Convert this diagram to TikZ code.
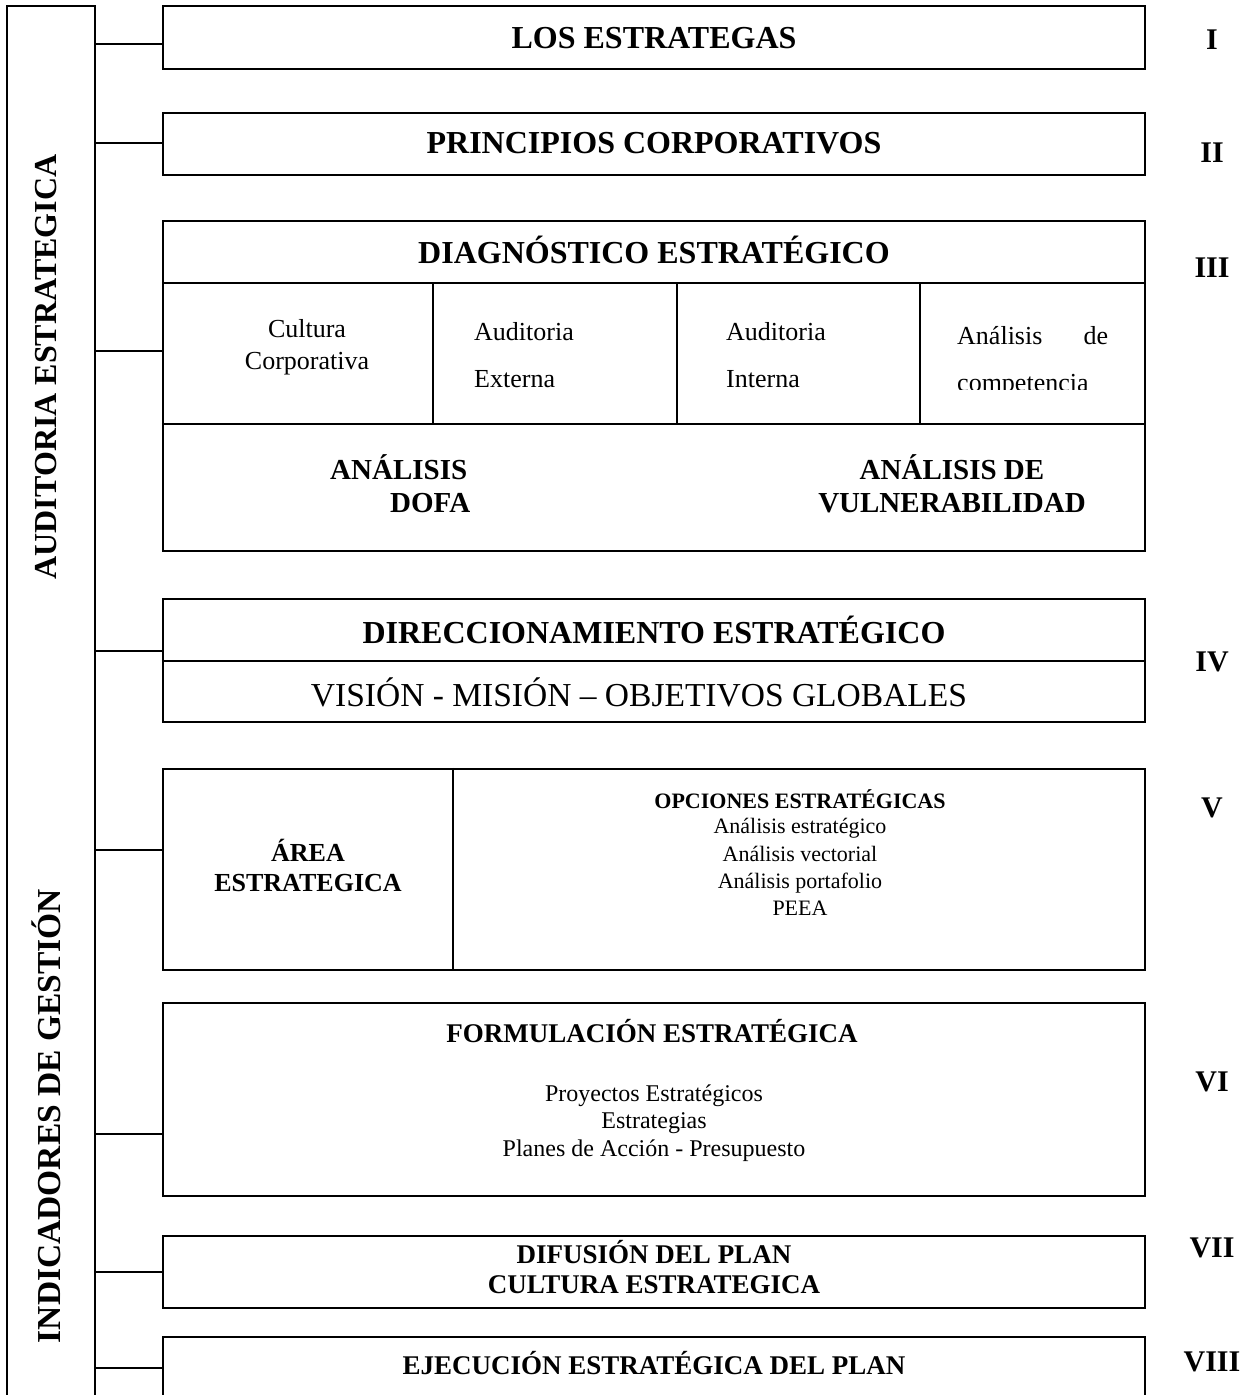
\documentclass[tikz,border=0pt]{standalone}
\usepackage{fontspec}
\setmainfont{Liberation Serif}
\begin{document}
\begin{tikzpicture}[x=1pt,y=-1pt,
  box/.style={draw, line width=2.4pt, inner sep=0pt},
  divline/.style={line width=2.4pt},
  conn/.style={line width=2pt},
  txt/.style={inner sep=0pt, align=center},
  bigb/.style={txt, font=\fontsize{32}{38}\selectfont\bfseries},
  midb/.style={txt, font=\fontsize{29}{33}\selectfont\bfseries},
  medb/.style={txt, font=\fontsize{27}{30}\selectfont\bfseries},
  smb/.style={txt, font=\fontsize{22}{27.3}\selectfont\bfseries},
  smr/.style={txt, font=\fontsize{22}{27.3}\selectfont},
  lstr/.style={txt, font=\fontsize{24}{27.5}\selectfont},
  cellr/.style={txt, font=\fontsize{26}{32}\selectfont},
  roman/.style={txt, font=\fontsize{30}{36}\selectfont\bfseries}]
\useasboundingbox (0,0) rectangle (1254,1395);
\clip (0,0) rectangle (1254,1395);
% left bar
\node[box, minimum width=88pt, minimum height=1414pt] (bar) at (51,713) {};
\node[bigb, rotate=90] (aud) at (46,367) {AUDITORIA ESTRATEGICA};
\node[bigb, font=\fontsize{33.5}{38}\selectfont\bfseries, rotate=90] (ind) at (46,1116) {INDICADORES DE GESTIÓN};
% boxes
\node[box, minimum width=982pt, minimum height=63pt] (b1) at (654,37.5) {};
\node[box, minimum width=982pt, minimum height=62pt] (b2) at (654,144) {};
\node[box, minimum width=982pt, minimum height=330pt] (b3) at (654,386) {};
\node[box, minimum width=982pt, minimum height=123pt] (b4) at (654,660.5) {};
\node[box, minimum width=982pt, minimum height=201pt] (b5) at (654,869.5) {};
\node[box, minimum width=982pt, minimum height=193pt] (b6) at (654,1099.5) {};
\node[box, minimum width=982pt, minimum height=72pt] (b7) at (654,1272) {};
\node[box, minimum width=982pt, minimum height=83pt] (b8) at (654,1378.5) {};
% connectors
\draw[conn] (bar.east |- 0,44) -- (b1.west |- 0,44);
\draw[conn] (bar.east |- 0,143) -- (b2.west |- 0,143);
\draw[conn] (bar.east |- 0,351) -- (b3.west |- 0,351);
\draw[conn] (bar.east |- 0,651) -- (b4.west |- 0,651);
\draw[conn] (bar.east |- 0,850) -- (b5.west |- 0,850);
\draw[conn] (bar.east |- 0,1134) -- (b6.west |- 0,1134);
\draw[conn] (bar.east |- 0,1272) -- (b7.west |- 0,1272);
\draw[conn] (bar.east |- 0,1368) -- (b8.west |- 0,1368);
% internal lines
\draw[divline] (b3.west |- 0,283) -- (b3.east |- 0,283);
\draw[divline] (b3.west |- 0,424) -- (b3.east |- 0,424);
\draw[divline] (433,283) -- (433,424);
\draw[divline] (677,283) -- (677,424);
\draw[divline] (920,283) -- (920,424);
\draw[divline] (b4.west |- 0,661) -- (b4.east |- 0,661);
\draw[divline] (453,0 |- b5.north) -- (453,0 |- b5.south);
% texts
\node[bigb] (t1) at (654,38) {LOS ESTRATEGAS};
\node[bigb] (t2) at (654,143) {PRINCIPIOS CORPORATIVOS};
\node[bigb] (t3) at (654,250) {DIAGNÓSTICO ESTRATÉGICO};
\node[cellr] (c1) at (307,347) {Cultura\\Corporativa};
\node[cellr, font=\fontsize{26}{47}\selectfont, align=left, anchor=west] (c2) at (474,355.5) {Auditoria\\Externa};
\node[cellr, font=\fontsize{26}{47}\selectfont, align=left, anchor=west] (c3) at (726,355.5) {Auditoria\\Interna};
\begin{scope}
\clip (920,283) rectangle (1145,389);
\node[cellr, font=\fontsize{26}{47}\selectfont, align=left, anchor=west] (c4) at (957,361.5) {\hbox to 151pt{Análisis\hfill de}\\competencia};
\end{scope}
\node[midb, align=left, anchor=west] (dofa) at (330,483.5) {ANÁLISIS\\\hspace*{60pt}DOFA};
\node[midb] (vul) at (952,483.5) {ANÁLISIS DE\\VULNERABILIDAD};
\node[bigb] (t4) at (654,630) {DIRECCIONAMIENTO ESTRATÉGICO};
\node[txt, font=\fontsize{33.5}{38}\selectfont] (t4b) at (639,692) {VISIÓN - MISIÓN – OBJETIVOS GLOBALES};
\node[txt, font=\fontsize{26}{30}\selectfont\bfseries] (area) at (308,865) {ÁREA\\ESTRATEGICA};
\node[smb] (opc) at (800,799) {OPCIONES ESTRATÉGICAS};
\node[smr] (opcl) at (800,867) {Análisis estratégico\\Análisis vectorial\\Análisis portafolio\\PEEA};
\node[medb] (t6) at (652,1031) {FORMULACIÓN ESTRATÉGICA};
\node[lstr] (t6l) at (654,1123) {Proyectos Estratégicos\\Estrategias\\Planes de Acción - Presupuesto};
\node[medb] (t7) at (654,1267) {DIFUSIÓN DEL PLAN\\CULTURA ESTRATEGICA};
\node[medb] (t8) at (654,1363) {EJECUCIÓN ESTRATÉGICA DEL PLAN};
% roman numerals
\node[roman] (r1) at (1212,40) {I};
\node[roman] (r2) at (1212,153) {II};
\node[roman] (r3) at (1212,268) {III};
\node[roman] (r4) at (1212,662) {IV};
\node[roman] (r5) at (1212,808) {V};
\node[roman] (r6) at (1212,1082) {VI};
\node[roman] (r7) at (1212,1248) {VII};
\node[roman] (r8) at (1212,1362) {VIII};
\end{tikzpicture}
\end{document}
